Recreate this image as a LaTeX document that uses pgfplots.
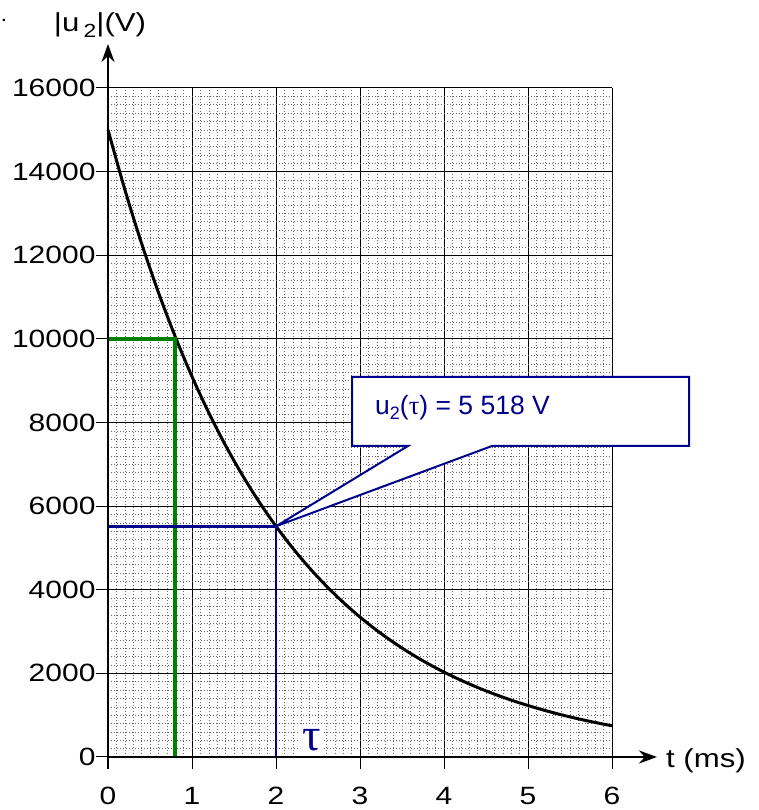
\documentclass[border=0pt]{standalone}
\usepackage{fontspec}
\setmainfont[FakeStretch=1.2]{Liberation Sans}
\newfontfamily\plainsans{Liberation Sans}
\newfontfamily\serifgreek{Liberation Serif}
\usepackage{pgfplots}
\pgfplotsset{compat=1.18}
\usetikzlibrary{arrows.meta}
\definecolor{navy}{RGB}{0,0,140}
\definecolor{dkgreen}{RGB}{0,128,0}

\begin{document}
\begin{tikzpicture}[x=1pt,y=1pt]
\useasboundingbox (0,0) rectangle (759,810);
\begin{axis}[
  at={(108pt,53pt)}, anchor=south west,
  scale only axis, width=504pt, height=669pt,
  xmin=0, xmax=6, ymin=0, ymax=16000,
  xtick={0,...,6}, ytick={0,2000,...,16000},
  minor x tick num=9, minor y tick num=9,
  grid=both,
  major grid style={black, line width=1pt},
  minor grid style={black!60, line width=0.6pt, dash pattern=on 1.2pt off 1.8pt},
  axis line style={draw=none},
  tick align=outside, major tick length=12pt, minor tick length=0pt,
  major tick style={black, line width=1pt},
  tick pos=left,
  scaled y ticks=false,
  /pgf/number format/1000 sep={},
  /pgf/number format/assume math mode=true,
  ticklabel style={font=\fontsize{25}{28}\selectfont},
  xticklabel style={yshift=-15pt},
  yticklabel style={xshift=3pt},
  clip=false,
]
\addplot[black, line width=3pt, smooth] coordinates {
(0,15000) (0.2,13573) (0.4,12281) (0.6,11112) (0.8,10055) (1.0,9098)
(1.2,8232) (1.4,7449) (1.6,6740) (1.8,6099) (2.0,5518) (2.2,4993)
(2.4,4518) (2.6,4088) (2.8,3699) (3.0,3347) (3.2,3028) (3.4,2740)
(3.6,2479) (3.8,2243) (4.0,2030) (4.2,1837) (4.4,1662) (4.6,1504)
(4.8,1361) (5.0,1231) (5.2,1114) (5.4,1008) (5.6,912) (5.8,825) (6.0,747)
};
\addplot[dkgreen, line width=3.6pt] coordinates {(0,10000) (0.8,10000) (0.8,0)};
\addplot[navy, line width=2.6pt] coordinates {(0,5518) (2,5518) (2,0)};
\draw[navy, line width=2pt, fill=white, line join=miter]
  (axis cs:2.905,9089) -- (axis cs:6.917,9089) -- (axis cs:6.917,7438)
  -- (axis cs:4.571,7438) -- (axis cs:2,5518) -- (axis cs:3.571,7438)
  -- (axis cs:2.905,7438) -- cycle;
\node[anchor=base west, text=navy, inner sep=0pt, font=\plainsans\fontsize{26.5}{28}\selectfont]
  at (axis cs:3.179,8180) {u\raisebox{-0.35ex}{\fontsize{18}{18}\selectfont 2}({\serifgreek τ}) = 5 518 V};
\node[fill=white, text=navy, inner sep=3pt, font=\serifgreek\fontsize{46}{46}\selectfont]
  at (axis cs:2.43,400) {τ};
\end{axis}
\draw[line width=2.8pt, -{Stealth[length=18pt, width=13pt]}] (108,53) -- (657,53);
\draw[line width=2.8pt, -{Stealth[length=18pt, width=13pt]}] (108,53) -- (108,766);
\node[font=\fontsize{26}{28}\selectfont] at (706,49) {t (ms)};
\node[font=\fontsize{26}{28}\selectfont] at (100,785) {|u\,\raisebox{-0.45ex}{\fontsize{19}{19}\selectfont 2}|(V)};
\node[font=\fontsize{20}{20}\selectfont] at (4,790) {.};
\end{tikzpicture}
\end{document}
